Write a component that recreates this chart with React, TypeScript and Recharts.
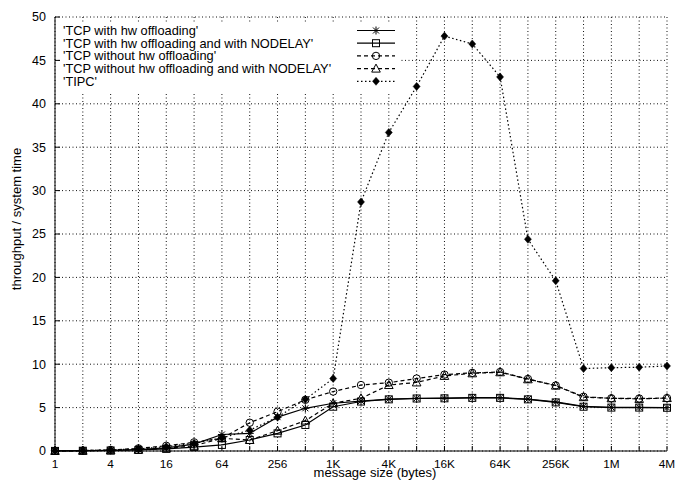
import React from 'react';
import { LineChart, Line, XAxis, YAxis, CartesianGrid, Legend, Label } from 'recharts';

const sizes = [1, 2, 4, 8, 16, 32, 64, 128, 256, 512, 1024, 2048, 4096, 8192, 16384, 32768, 65536, 131072, 262144, 524288, 1048576, 2097152, 4194304];
const sizeLabels = ['1', '', '4', '', '16', '', '64', '', '256', '', '1K', '', '4K', '', '16K', '', '64K', '', '256K', '', '1M', '', '4M'];
const yTicks = [0, 5, 10, 15, 20, 25, 30, 35, 40, 45, 50];

const tcpHw = [0.02, 0.04, 0.08, 0.17, 0.35, 0.8, 1.9, 2.03, 3.9, 4.92, 5.5, 5.75, 5.98, 6.07, 6.1, 6.15, 6.15, 5.98, 5.65, 5.15, 5.03, 5.03, 5.0];
const tcpHwNodelay = [0.01, 0.03, 0.06, 0.12, 0.25, 0.45, 0.7, 1.27, 2.03, 3.0, 5.1, 5.7, 5.95, 6.05, 6.07, 6.12, 6.12, 5.95, 5.6, 5.1, 5.0, 5.0, 4.98];
const tcpNoHw = [0.02, 0.05, 0.12, 0.3, 0.6, 1.0, 1.46, 3.26, 4.53, 5.9, 6.85, 7.6, 7.87, 8.35, 8.8, 9.0, 9.1, 8.3, 7.55, 6.25, 6.07, 6.05, 6.1];
const tcpNoHwNodelay = [0.01, 0.03, 0.07, 0.15, 0.3, 0.6, 1.46, 1.27, 2.34, 3.5, 5.5, 6.07, 7.6, 7.9, 8.65, 8.95, 9.07, 8.26, 7.53, 6.2, 6.07, 6.0, 6.1];
const tipc = [0.03, 0.06, 0.12, 0.25, 0.5, 0.9, 1.5, 2.4, 3.9, 5.95, 8.35, 28.7, 36.7, 42.0, 47.8, 46.9, 43.1, 24.4, 19.6, 9.5, 9.6, 9.65, 9.8];

const seriesNames = [
  "'TCP with hw offloading'",
  "'TCP with hw offloading and with NODELAY'",
  "'TCP without hw offloading'",
  "'TCP without hw offloading and with NODELAY'",
  "'TIPC'",
];

const data = sizes.map((s, i) => ({
  size: s,
  a: tcpHw[i],
  b: tcpHwNodelay[i],
  c: tcpNoHw[i],
  d: tcpNoHwNodelay[i],
  e: tipc[i],
}));

const FONT = '"Liberation Sans", Arial, Helvetica, sans-serif';

type Kind = 'star' | 'square' | 'circle' | 'triangle' | 'diamond';

const series: { key: string; name: string; kind: Kind; dash?: string }[] = [
  { key: 'a', name: seriesNames[0], kind: 'star' },
  { key: 'b', name: seriesNames[1], kind: 'square' },
  { key: 'c', name: seriesNames[2], kind: 'circle', dash: '4 3' },
  { key: 'd', name: seriesNames[3], kind: 'triangle', dash: '4 3' },
  { key: 'e', name: seriesNames[4], kind: 'diamond', dash: '1.5 2.5' },
];

function Marker({ kind, x, y }: { kind: Kind; x: number; y: number }) {
  const s = 4;
  switch (kind) {
    case 'star':
      return (
        <g stroke="#000" strokeWidth={1}>
          <line x1={x - s} y1={y} x2={x + s} y2={y} />
          <line x1={x} y1={y - s} x2={x} y2={y + s} />
          <line x1={x - s + 1} y1={y - s + 1} x2={x + s - 1} y2={y + s - 1} />
          <line x1={x - s + 1} y1={y + s - 1} x2={x + s - 1} y2={y - s + 1} />
        </g>
      );
    case 'square':
      return <rect x={x - s + 0.5} y={y - s + 0.5} width={2 * s - 1} height={2 * s - 1} fill="none" stroke="#000" strokeWidth={1} />;
    case 'circle':
      return <circle cx={x} cy={y} r={s - 0.3} fill="none" stroke="#000" strokeWidth={1} />;
    case 'triangle':
      return (
        <polygon
          points={`${x},${y - s - 0.5} ${x - s - 0.3},${y + s - 0.5} ${x + s + 0.3},${y + s - 0.5}`}
          fill="none"
          stroke="#000"
          strokeWidth={1}
        />
      );
    default:
      return (
        <polygon
          points={`${x},${y - s} ${x + s - 0.5},${y} ${x},${y + s} ${x - s + 0.5},${y}`}
          fill="#000"
          stroke="#000"
          strokeWidth={0.5}
        />
      );
  }
}

const makeDot = (kind: Kind) => (props: any) => {
  const { cx, cy, index } = props;
  if (cx == null || cy == null || isNaN(cx) || isNaN(cy)) return <g key={`${kind}-${index}`} />;
  return (
    <g key={`${kind}-${index}`}>
      <Marker kind={kind} x={cx} y={cy} />
    </g>
  );
};

const renderLegend = () => (
  <svg width={339} height={70} style={{ display: 'block' }}>
    {series.map((s, i) => {
      const cy = 7.5 + i * 12.7;
      return (
        <g key={s.key}>
          <text x={1} y={cy} dominantBaseline="central" fontSize={12.8} fontFamily={FONT} fill="#000">
            {s.name}
          </text>
          <line x1={295} x2={333} y1={cy} y2={cy} stroke="#000" strokeWidth={1.2} strokeDasharray={s.dash} />
          <Marker kind={s.kind} x={314} y={cy} />
        </g>
      );
    })}
  </svg>
);

export default function App() {
  return (
    <div style={{ width: 675, height: 480, overflow: 'hidden' }}>
      <style>{'html,body{margin:0;padding:0;overflow:hidden}#root{width:675px;height:480px}'}</style>
      <LineChart width={675} height={480} data={data} margin={{ top: 17, right: 8, left: 0, bottom: 0 }}>
        <CartesianGrid stroke="#111" strokeDasharray="1 2.5" strokeWidth={1} />
        <XAxis
          dataKey="size"
          type="number"
          scale="log"
          domain={[1, 4194304]}
          ticks={sizes}
          interval={0}
          tickFormatter={(v: number) => sizeLabels[sizes.indexOf(v)] ?? ''}
          tickSize={-5}
          tickMargin={14}
          height={29}
          axisLine={{ stroke: '#000' }}
          tickLine={{ stroke: '#000' }}
          tick={{ fill: '#000', fontSize: 11.8, fontFamily: FONT }}
        >
          <Label
            content={() => (
              <text x={375} y={477} textAnchor="middle" fontSize={13} fontFamily={FONT} fill="#000">
                message size (bytes)
              </text>
            )}
          />
        </XAxis>
        <XAxis
          xAxisId="top"
          orientation="top"
          dataKey="size"
          type="number"
          scale="log"
          domain={[1, 4194304]}
          ticks={sizes}
          interval={0}
          tickFormatter={() => ''}
          tickSize={-5}
          height={0}
          axisLine={{ stroke: '#000' }}
          tickLine={{ stroke: '#000' }}
        />
        <YAxis
          type="number"
          domain={[0, 50]}
          ticks={yTicks}
          interval={0}
          width={55}
          tickSize={-5}
          tickMargin={14}
          axisLine={{ stroke: '#000' }}
          tickLine={{ stroke: '#000' }}
          tick={{ fill: '#000', fontSize: 12.5, fontFamily: FONT }}
        >
          <Label
            content={() => (
              <text
                x={16}
                y={219}
                transform="rotate(-90, 16, 219)"
                textAnchor="middle"
                dominantBaseline="central"
                fontSize={13}
                fontFamily={FONT}
                fill="#000"
              >
                throughput / system time
              </text>
            )}
          />
        </YAxis>
        <YAxis
          yAxisId="right"
          orientation="right"
          type="number"
          domain={[0, 50]}
          ticks={yTicks}
          interval={0}
          width={0}
          tickSize={-5}
          tickFormatter={() => ''}
          axisLine={{ stroke: '#000', strokeWidth: 2 }}
          tickLine={{ stroke: '#000' }}
        />
        <Legend
          layout="vertical"
          align="center"
          verticalAlign="middle"
          content={renderLegend}
          wrapperStyle={{ left: 62, top: 23, width: 339, height: 70, background: '#fff', margin: 0, padding: 0 }}
        />
        {series.map((s) => (
          <Line
            key={s.key}
            dataKey={s.key}
            name={s.name}
            type="linear"
            stroke="#000"
            strokeWidth={1.2}
            strokeDasharray={s.dash}
            dot={makeDot(s.kind)}
            activeDot={false}
            isAnimationActive={false}
          />
        ))}
      </LineChart>
    </div>
  );
}
